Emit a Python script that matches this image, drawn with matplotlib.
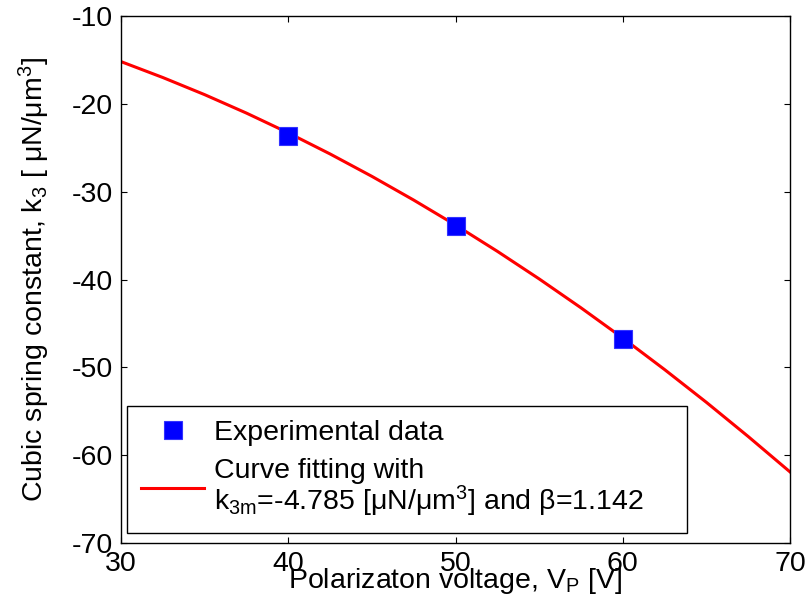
import matplotlib
matplotlib.use("Agg")
import matplotlib.pyplot as plt
from matplotlib.lines import Line2D

plt.rcParams['font.family'] = ['Liberation Sans', 'DejaVu Sans']
plt.rcParams['mathtext.fontset'] = 'custom'
plt.rcParams['mathtext.rm'] = 'Liberation Sans'
plt.rcParams['mathtext.it'] = 'Liberation Sans'
plt.rcParams['mathtext.bf'] = 'Liberation Sans:bold'
plt.rcParams['axes.unicode_minus'] = False

# Experimental data
exp_voltage = [40, 50, 60]
exp_k3 = [-23.7, -33.9, -46.8]

# Fitted curve
fit_voltage = [30, 32.5, 35, 37.5, 40, 42.5, 45, 47.5, 50, 52.5, 55, 57.5, 60, 62.5, 65, 67.5, 70]
fit_k3 = [-15.20, -17.01, -18.96, -21.06, -23.31, -25.71, -28.26, -30.96, -33.80, -36.79,
          -39.93, -43.22, -46.66, -50.25, -53.98, -57.87, -61.90]

x_ticks = [30, 40, 50, 60, 70]
y_ticks = [-70, -60, -50, -40, -30, -20, -10]

FS = 20.5

fig = plt.figure(figsize=(8.07, 6.13), dpi=100)
ax = fig.add_axes([0.150, 0.114, 0.829, 0.860])

ax.plot(fit_voltage, fit_k3, color='red', lw=2.2, zorder=2, solid_joinstyle='round')
ax.plot(exp_voltage, exp_k3, 's', color='blue', ms=13, mec='#3333ff', mew=0.8, zorder=3)

ax.set_xlim(30, 70)
ax.set_ylim(-70, -10)
ax.set_xticks(x_ticks)
ax.set_yticks(y_ticks)
ax.tick_params(direction='in', length=4, width=0.8, top=True, right=True, labelsize=FS)
ax.tick_params(axis='x', pad=6)
ax.tick_params(axis='y', pad=6)
for s in ax.spines.values():
    s.set_linewidth(1.0)

ax.set_xlabel('Polarizaton voltage, $\\mathregular{V_P}$ [V]', fontsize=FS, labelpad=-8)
ax.set_ylabel('Cubic spring constant, $\\mathregular{k_3}$ [ μN/μm$\\mathregular{^3}$]',
              fontsize=FS, labelpad=14)

handles = [
    Line2D([], [], ls='none', marker='s', color='blue', ms=13, mec='#3333ff', mew=0.8),
    Line2D([], [], color='red', lw=2.2),
]
labels = ['Experimental data',
          'Curve fitting with\n$\\mathregular{k_{3m}}$=-4.785 [μN/μm$\\mathregular{^3}$] and β=1.142']
leg = ax.legend(handles, labels, loc='lower left', bbox_to_anchor=(0.009, 0.019, 0.837, 0.233),
                mode='expand', borderaxespad=0, fontsize=FS, frameon=True, fancybox=False,
                edgecolor='black', framealpha=1, handlelength=2.2, handletextpad=0.35,
                borderpad=0.5, labelspacing=0.4)
leg.get_frame().set_linewidth(1.0)
for t in leg.get_texts():
    t.set_linespacing(1.0)

fig.savefig('out.png', dpi=100)
